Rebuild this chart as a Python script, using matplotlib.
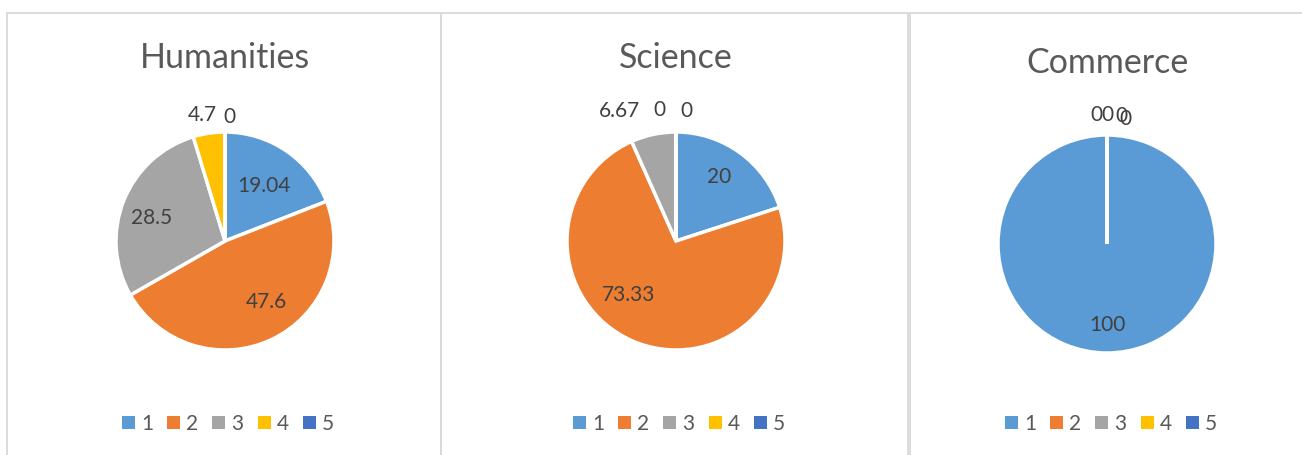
import matplotlib.pyplot as plt
from matplotlib.patches import Rectangle, Patch
import numpy as np

plt.rcParams['font.family'] = ['Lato', 'DejaVu Sans']

titles = ["Humanities", "Science", "Commerce"]
categories = ["1", "2", "3", "4", "5"]
humanities = [19.04, 47.6, 28.5, 4.7, 0]
science = [20, 73.33, 6.67, 0, 0]
commerce = [100, 0, 0, 0, 0]
colors = ["#5B9BD5", "#ED7D31", "#A5A5A5", "#FFC000", "#4472C4"]

W, H = 1302, 455
fig = plt.figure(figsize=(W / 100, H / 100), dpi=100)

# layout in pixels
panels = [(7, 441), (441, 908), (910, 1320)]
centres = [(225, 241), (676, 241), (1107, 244)]
R = 109
title_y = [58, 58, 63]
legend_x = [228, 679, 1111]
half = 160  # half size of each pie axes (px)

# Excel moved some labels around to stop overlaps (radius units)
nudges = {
    (0, 0): (-0.03, -0.06),
    (0, 1): (0.09, 0.05),
    (0, 2): (-0.04, -0.04),
    (0, 3): (-0.04, 0.01),
    (0, 4): (0.045, -0.02),
    (1, 0): (0.0, 0.035),
    (1, 1): (-0.156, 0.128),
    (1, 2): (-0.28, 0.06),
    (1, 3): (-0.156, 0.045),
    (1, 4): (0.10, 0.03),
    (2, 0): (0.0, -0.065),
    (2, 1): (-0.10, 0.025),
    (2, 2): (0.005, 0.025),
    (2, 3): (0.13, 0.015),
    (2, 4): (0.17, -0.01),
}


def px(x, y):
    return x / W, 1 - y / H


def label_pos(vals, i):
    total = sum(vals)
    start = sum(vals[:i]) / total
    mid = (start + vals[i] / total / 2) * 2 * np.pi
    r = 0.68 if vals[i] / total > 0.1 else 1.16
    return r * np.sin(mid), r * np.cos(mid)


for k, vals in enumerate([humanities, science, commerce]):
    x0, x1 = panels[k]
    fig.add_artist(Rectangle(px(x0, H + 20), (x1 - x0) / W, (H + 7) / H,
                             transform=fig.transFigure, fill=False,
                             edgecolor="#D9D9D9", linewidth=1.3))

    cx, cy = centres[k]
    l, b = px(cx - half, cy + half)
    ax = fig.add_axes([l, b, 2 * half / W, 2 * half / H])
    ax.pie(vals, colors=colors, startangle=90, counterclock=False, radius=1,
           wedgeprops=dict(edgecolor="white", linewidth=2.5))
    lim = half / R
    ax.set_xlim(-lim, lim)
    ax.set_ylim(-lim, lim)
    ax.set_aspect("equal")
    ax.axis("off")

    for i, v in enumerate(vals):
        lx, ly = label_pos(vals, i)
        dx, dy = nudges.get((k, i), (0, 0))
        ax.text(lx + dx, ly + dy, f"{v:g}", ha="center", va="center",
                fontsize=15, color="#404040")

    tx, ty = px(cx, title_y[k])
    fig.text(tx, ty, titles[k], ha="center", va="center", fontsize=24.5,
             color="#595959")

    handles = [Patch(facecolor=c, edgecolor="none") for c in colors]
    fig.legend(handles, categories, loc="center",
               bbox_to_anchor=px(legend_x[k], 424), ncol=5, frameon=False,
               fontsize=15, handlelength=0.63, handleheight=0.63,
               handletextpad=0.29, columnspacing=0.67, labelcolor="#595959",
               borderpad=0, borderaxespad=0)

fig.savefig("out.png", dpi=100)
